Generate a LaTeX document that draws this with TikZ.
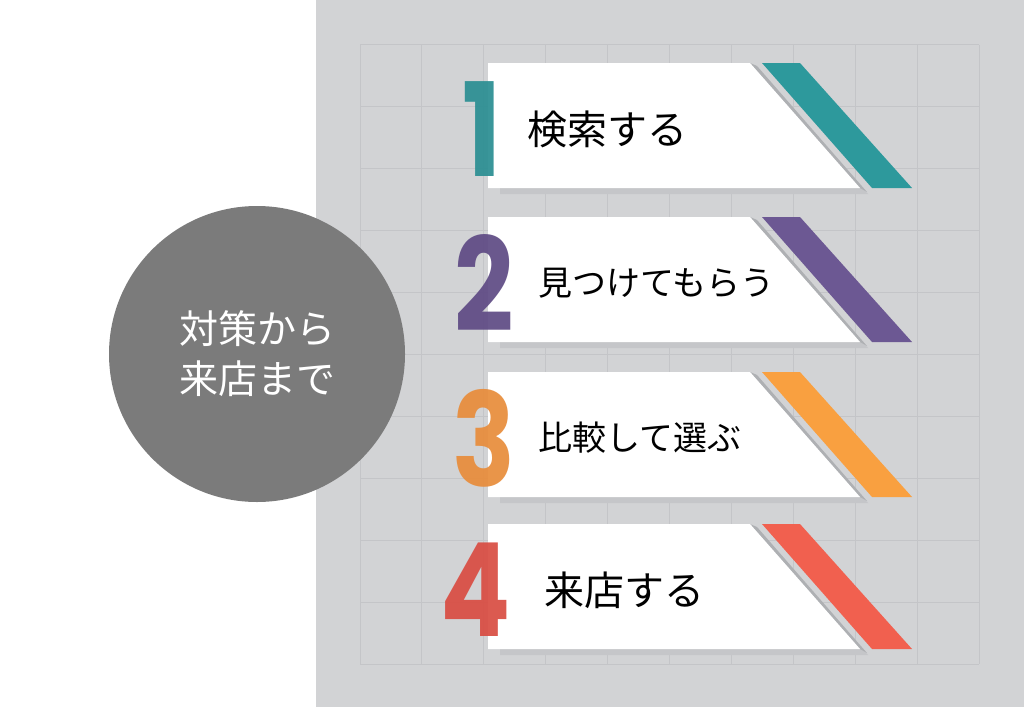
\documentclass[tikz,border=0pt]{standalone}
\usepackage{fontspec}
\newfontfamily\jpfont{Noto Sans CJK JP}
\newfontfamily\numfont{Poppins}
\usepackage{tikz}
\usetikzlibrary{positioning,calc}

\definecolor{panelgray}{HTML}{D2D3D5}
\definecolor{gridgray}{HTML}{C4C5C8}
\definecolor{shadowgray}{HTML}{C5C6C9}
\definecolor{edgegray}{HTML}{AEB0B3}
\definecolor{circlegray}{HTML}{7B7B7B}
\definecolor{tealstripe}{HTML}{2D999C}
\definecolor{tealnum}{HTML}{2A8E92}
\definecolor{purplestripe}{HTML}{6C5893}
\definecolor{purplenum}{HTML}{5E4A84}
\definecolor{orangestripe}{HTML}{F9A040}
\definecolor{orangenum}{HTML}{E88C3A}
\definecolor{redstripe}{HTML}{F1604F}
\definecolor{rednum}{HTML}{D94C42}

\begin{document}
\begin{tikzpicture}[x=1pt, y=-1pt,
    gridline/.style={draw=gridgray, line width=1pt},
    banner/.style={fill=white},
    bannershadow/.style={fill=shadowgray},
    edgeshadow/.style={fill=edgegray},
    numlabel/.style={inner sep=0pt, anchor=center, opacity=0.92,
      font=\numfont\bfseries\fontsize{130}{130}\selectfont},
    steptext/.style={inner sep=0pt, anchor=west, text=black},
    goal/.style={circle, fill=circlegray, minimum size=296pt, inner sep=0pt,
      text=white, align=center, font=\jpfont\fontsize{39}{50}\selectfont}]
    \useasboundingbox (0,0) rectangle (1024,709);
    % Panel and grid
    \fill[panelgray] (316,0) rectangle (1024,707);
    \foreach \i in {0,...,10} {
      \draw[gridline] ({360+61.9*\i},45) -- ({360+61.9*\i},664);
      \draw[gridline] (360,{45+61.9*\i}) -- (979,{45+61.9*\i});
    }
    % Banners
    \foreach \top/\stripe/\numcol/\num/\nx/\txt/\fs/\tx [count=\k] in {
        63/tealstripe/tealnum/1/482/検索する/40/527,
        217/purplestripe/purplenum/2/484/見つけてもらう/34/538,
        372/orangestripe/orangenum/3/484/比較して選ぶ/34/538,
        524/redstripe/rednum/4/476/来店する/40/544} {
      \fill[bannershadow] (500,{\top+5}) -- (758,{\top+5}) -- (868,{\top+131}) -- (500,{\top+131}) -- cycle;
      \fill[edgeshadow] (750,\top) -- (757,{\top+3}) -- (867,{\top+129}) -- (860,{\top+125}) -- cycle;
      \fill[banner] (488,\top) -- (750,\top) -- (860,{\top+125}) -- (488,{\top+125}) -- cycle;
      \fill[\stripe] (762,\top) -- (800,\top) -- (912,{\top+125}) -- (872,{\top+125}) -- cycle;
      \node[numlabel, text=\numcol] (num\k) at (\nx,{\top+66}) {\scalebox{0.8}[1]{\num}};
      \node[steptext, font=\jpfont\fontsize{\fs}{\fs}\selectfont] (step\k) at (\tx,{\top+66}) {\txt};
    }
    % Circle
    \node[goal] (start) at (257,354) {対策から\\来店まで};
\end{tikzpicture}
\end{document}
